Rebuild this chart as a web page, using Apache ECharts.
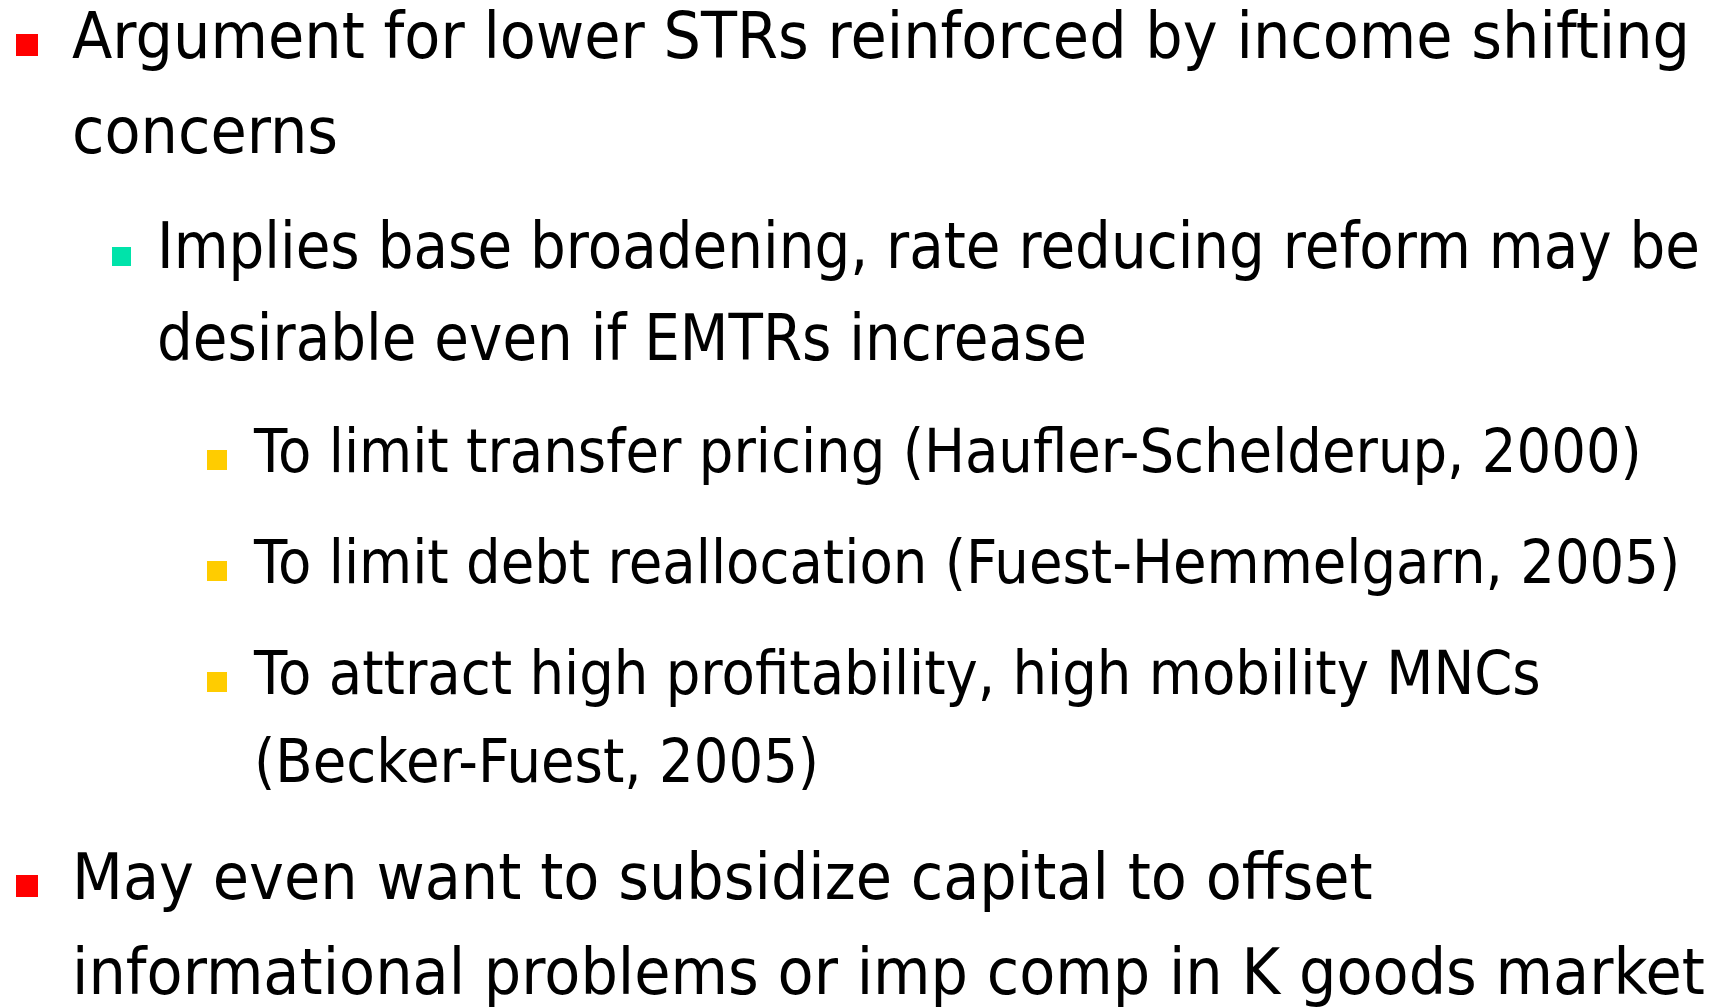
<!DOCTYPE html>
<html>
<head>
<meta charset="utf-8">
<script src="https://cdn.jsdelivr.net/npm/echarts@6/dist/echarts.min.js"></script>
<style>
html,body{margin:0;padding:0;background:#fff;}
#main{width:1713px;height:1007px;}
</style>
</head>
<body>
<div id="main"></div>
<script>
// Slide content: outline levels and their wrapped text lines
const levels = [0, 1, 2, 2, 2, 0];
const paragraphs = [
  ["Argument for lower STRs reinforced by income shifting", "concerns"],
  ["Implies base broadening, rate reducing reform may be", "desirable even if EMTRs increase"],
  ["To limit transfer pricing (Haufler-Schelderup, 2000)"],
  ["To limit debt reallocation (Fuest-Hemmelgarn, 2005)"],
  ["To attract high profitability, high mobility MNCs", "(Becker-Fuest, 2005)"],
  ["May even want to subsidize capital to offset", "informational problems or imp comp in K goods market"]
];
const bulletColors = ["#FF0000", "#00E3AA", "#FFCC00"];

// Layout styles per level
const fontSize = [64, 64, 60];
const squeeze = [0.922, 0.881, 0.909];
const lineGap = [95, 92, 88];
const spaceBefore = 23;
const textX = [72, 157, 254];
const bulletX = [16, 112, 207];
const bulletSize = [22, 19, 20];
const bulletRise = [3, 3, 2];
const firstBaseline = 59;

const chart = echarts.init(document.getElementById('main'), null, {renderer: 'canvas'});
const elements = [];
let baseline = firstBaseline;
paragraphs.forEach((lines, p) => {
  const lv = levels[p];
  if (p > 0) baseline += lineGap[lv] + spaceBefore;
  elements.push({
    type: 'rect',
    shape: {x: bulletX[lv], y: baseline - bulletRise[lv] - bulletSize[lv], width: bulletSize[lv], height: bulletSize[lv]},
    style: {fill: bulletColors[lv]}
  });
  lines.forEach((t, i) => {
    if (i > 0) baseline += lineGap[lv];
    elements.push({
      type: 'text',
      x: textX[lv],
      y: baseline - 0.3 * fontSize[lv] + 2,
      scaleX: squeeze[lv],
      style: {
        text: t,
        fill: '#000000',
        font: fontSize[lv] + 'px "DejaVu Sans"',
        textAlign: 'left',
        textVerticalAlign: 'middle'
      }
    });
  });
});

chart.setOption({
  backgroundColor: '#ffffff',
  animation: false,
  graphic: {elements: elements}
});
</script>
</body>
</html>
